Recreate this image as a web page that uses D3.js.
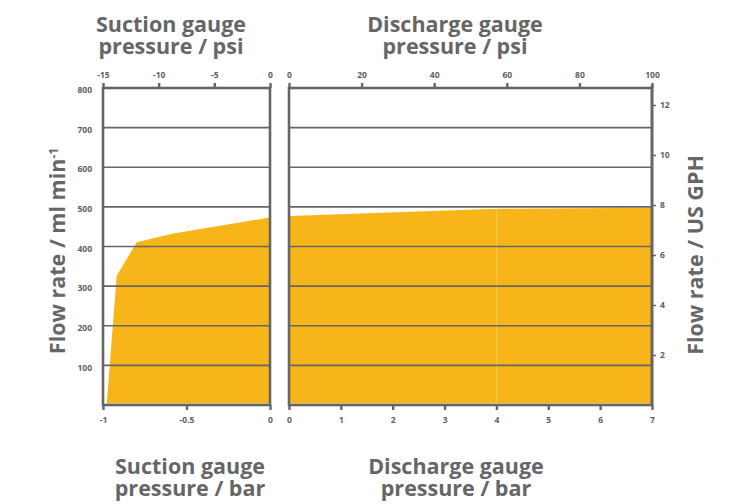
<!DOCTYPE html>
<html>
<head>
<meta charset="utf-8">
<script src="https://cdn.jsdelivr.net/npm/d3@7"></script>
<style>
  body { margin: 0; background: #fff; }
  text { font-family: "Open Sans", sans-serif; font-weight: bold; }
</style>
</head>
<body>
<div id="chart"></div>
<script>
// flow curve (bar gauge pressure -> ml/min)
var suctionBar  = [-0.978, -0.918, -0.798, -0.579, 0];
var suctionFlow = [0, 326, 411, 433, 473];
var dischargeBar  = [0, 4, 7];
var dischargeFlow = [477, 495, 498];

// axis ticks
var suctionPsiTicks = [-15, -10, -5, 0];
var suctionBarTicks = [-1, -0.5, 0];
var dischargePsiTicks = [0, 20, 40, 60, 80, 100];
var dischargeBarTicks = [0, 1, 2, 3, 4, 5, 6, 7];
var flowTicks = [100, 200, 300, 400, 500, 600, 700, 800];
var gphTicks = [2, 4, 6, 8, 10, 12];
var gridFlow = [100, 200, 300, 400, 500, 600, 700];

var ML_PER_GPH = 63.0902; // 1 US gal/h in ml/min

var width = 737, height = 504;
var yTop = 88, yBottom = 405;
var grey = "#666", textGrey = "#5e5e5e", orange = "#F7B519";
var tickFont = "8.5px";

var svg = d3.select("#chart").append("svg").attr("width", width).attr("height", height);

var y = d3.scaleLinear().domain([0, 800]).range([yBottom, yTop]);
var yGph = d3.scaleLinear().domain([0, 800 / ML_PER_GPH]).range([yBottom, yTop]);

var panels = [
  {id: "suction", x0: 103, x1: 270, bar: suctionBar, flow: suctionFlow,
   barDom: [-1, 0], psiDom: [-15, 0], barTicks: suctionBarTicks, psiTicks: suctionPsiTicks},
  {id: "discharge", x0: 289, x1: 652, bar: dischargeBar, flow: dischargeFlow,
   barDom: [0, 7], psiDom: [0, 100], barTicks: dischargeBarTicks, psiTicks: dischargePsiTicks}
];

panels.forEach(function(p){
  var xBar = d3.scaleLinear().domain(p.barDom).range([p.x0, p.x1]);
  var xPsi = d3.scaleLinear().domain(p.psiDom).range([p.x0, p.x1]);

  svg.append("clipPath").attr("id", "clip-" + p.id)
    .append("rect").attr("x", p.x0).attr("y", yTop).attr("width", p.x1 - p.x0).attr("height", yBottom - yTop);

  var area = d3.area()
    .x(function(d){ return xBar(d[0]); })
    .y0(y(0) - 1.5)
    .y1(function(d){ return y(d[1]); });

  var pts = d3.zip(p.bar, p.flow);
  var g = svg.append("g").attr("clip-path", "url(#clip-" + p.id + ")");
  if (p.id == "discharge") {
    // drawn piece by piece, the original shows a faint seam at each point
    for (var i = 0; i < pts.length - 1; i++) {
      g.append("path").datum([pts[i], pts[i + 1]]).attr("fill", orange).attr("d", area);
    }
  } else {
    g.append("path").datum(pts).attr("fill", orange).attr("d", area);
  }

  // grid lines
  svg.append("g").selectAll("line").data(gridFlow).join("line")
    .attr("x1", p.x0).attr("x2", p.x1)
    .attr("y1", function(d){ return y(d); }).attr("y2", function(d){ return y(d); })
    .attr("stroke", grey).attr("stroke-width", 1.6);

  // frame
  svg.append("rect").attr("x", p.x0).attr("y", yTop).attr("width", p.x1 - p.x0).attr("height", yBottom - yTop)
    .attr("fill", "none").attr("stroke", grey).attr("stroke-width", 2.6);

  var axTop = svg.append("g").attr("transform", "translate(0," + yTop + ")")
    .call(d3.axisTop(xPsi).tickValues(p.psiTicks).tickSize(5).tickPadding(5).tickFormat(String));
  var axBot = svg.append("g").attr("transform", "translate(0," + yBottom + ")")
    .call(d3.axisBottom(xBar).tickValues(p.barTicks).tickSize(5).tickPadding(7).tickFormat(String));
  [axTop, axBot].forEach(function(a){
    a.select(".domain").remove();
    a.selectAll("line").attr("stroke", grey).attr("stroke-width", 2.4);
    a.selectAll("text").attr("fill", textGrey).style("font-size", tickFont).style("font-family", "Open Sans").style("font-weight", "bold");
  });
});

// left flow axis (labels only)
var axL = svg.append("g").attr("transform", "translate(103,0)")
  .call(d3.axisLeft(y).tickValues(flowTicks).tickSize(0).tickPadding(11));
axL.select(".domain").remove();
axL.selectAll("text").attr("fill", textGrey).attr("dy", "0.55em").style("font-size", tickFont).style("font-family", "Open Sans").style("font-weight", "bold");

// right GPH axis
var axR = svg.append("g").attr("transform", "translate(652,0)")
  .call(d3.axisRight(yGph).tickValues(gphTicks).tickSize(4).tickPadding(4).tickFormat(String));
axR.select(".domain").attr("stroke", grey).attr("stroke-width", 2.6).attr("d", "M0," + (yTop - 3) + "V" + yBottom);
axR.selectAll("line").attr("stroke", grey).attr("stroke-width", 1.5);
axR.selectAll("text").attr("fill", textGrey).style("font-size", tickFont).style("font-family", "Open Sans").style("font-weight", "bold");

// titles
function title(x, y1, lines){
  var t = svg.append("text").attr("text-anchor", "middle").attr("fill", grey).style("font-size", "21.5px");
  lines.forEach(function(l, i){
    t.append("tspan").attr("x", x).attr("y", y1 + i * 22).text(l);
  });
}
title(171, 32, ["Suction gauge", "pressure / psi"]);
title(455, 32, ["Discharge gauge", "pressure / psi"]);
title(190, 474, ["Suction gauge", "pressure / bar"]);
title(456, 474, ["Discharge gauge", "pressure / bar"]);

var yl = svg.append("text").attr("transform", "translate(65,251) rotate(-90)")
  .attr("text-anchor", "middle").attr("fill", grey).style("font-size", "21.5px");
yl.append("tspan").text("Flow rate / ml min");
yl.append("tspan").attr("dy", "-0.6em").style("font-size", "12px").text("-1");

svg.append("text").attr("transform", "translate(703,255) rotate(-90)")
  .attr("text-anchor", "middle").attr("fill", grey).style("font-size", "21.5px")
  .text("Flow rate / US GPH");
</script>
</body>
</html>
